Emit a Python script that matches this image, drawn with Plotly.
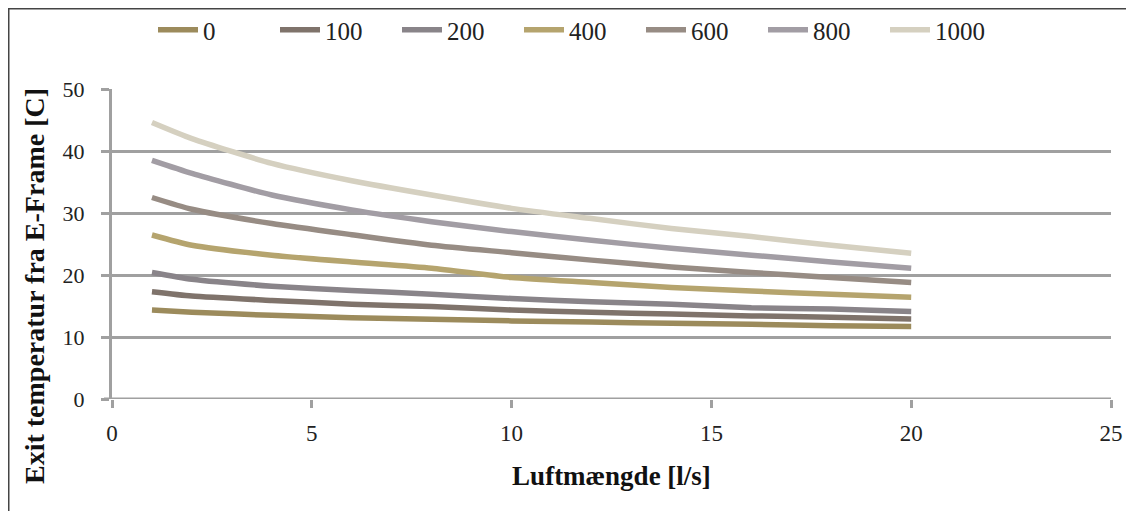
import plotly.graph_objects as go

x_vals = [1, 2, 4, 6, 8, 10, 12, 14, 16, 18, 20]
series_names = ["0", "100", "200", "400", "600", "800", "1000"]
s0 = [14.35, 14.0, 13.5, 13.1, 12.85, 12.6, 12.4, 12.2, 12.05, 11.8, 11.7]
s100 = [17.3, 16.6, 15.9, 15.3, 14.9, 14.35, 14.0, 13.7, 13.4, 13.2, 12.9]
s200 = [20.4, 19.3, 18.2, 17.5, 16.9, 16.2, 15.7, 15.3, 14.7, 14.5, 14.1]
s400 = [26.45, 24.8, 23.2, 22.1, 21.1, 19.6, 18.8, 18.0, 17.4, 16.9, 16.4]
s600 = [32.5, 30.6, 28.3, 26.5, 24.8, 23.6, 22.4, 21.3, 20.4, 19.6, 18.8]
s800 = [38.5, 36.4, 32.9, 30.5, 28.6, 27.0, 25.6, 24.3, 23.2, 22.1, 21.1]
s1000 = [44.6, 42.0, 38.0, 35.2, 32.9, 30.75, 29.1, 27.5, 26.2, 24.8, 23.5]
series_values = [s0, s100, s200, s400, s600, s800, s1000]
colors = ["#9c8b5c", "#7f736b", "#898489", "#b5a46e", "#978c84", "#a29da4", "#d5d0c0"]

x_ticks = [0, 5, 10, 15, 20, 25]
y_ticks = [0, 10, 20, 30, 40, 50]
x_title = "Luftmængde [l/s]"
y_title = "Exit temperatur fra E-Frame [C]"

FONT = "Liberation Serif"

fig = go.Figure()
for name, vals, col in zip(series_names, series_values, colors):
    fig.add_trace(go.Scatter(
        x=x_vals, y=vals, name=name, mode="lines",
        line=dict(color=col, width=5.5, shape="spline", smoothing=0.6),
    ))

# page body has an 8px margin, so the figure is sized to fit the window
W, H = 1126, 503
L, R, T, B = 104, 23, 81, 112
pw, ph = W - L - R, H - T - B

def px_x(p):
    return (p - L) / pw

def px_y(p):
    return (H - B - p) / ph

fig.update_layout(
    width=W, height=H,
    margin=dict(l=L, r=R, t=T, b=B, autoexpand=False),
    paper_bgcolor="white", plot_bgcolor="white",
    font=dict(family=FONT, color="#222222", size=23),
    showlegend=True,
    legend=dict(
        orientation="h", x=px_x(145), xanchor="left", y=px_y(22), yanchor="middle",
        font=dict(family=FONT, size=25, color="#222222"),
        itemwidth=40, entrywidth=67, entrywidthmode="pixels", tracegroupgap=0,
        bgcolor="rgba(0,0,0,0)",
    ),
    xaxis=dict(
        range=[0, 25], tickvals=x_ticks, ticktext=[str(v) for v in x_ticks],
        showgrid=False, zeroline=False, showline=False,
        ticks="outside", ticklen=8, tickwidth=3, tickcolor="#a0a0a0",
        ticklabelstandoff=5,
        tickfont=dict(family=FONT, size=23, color="#222222"),
        title=dict(text="<b>" + x_title + "</b>", font=dict(family=FONT, size=27, color="#111111"), standoff=21),
    ),
    yaxis=dict(
        range=[0, 50], tickvals=y_ticks, ticktext=[str(v) for v in y_ticks],
        showgrid=True, gridcolor="#a0a0a0", gridwidth=3,
        zeroline=False, showline=True, linecolor="#a0a0a0", linewidth=3,
        ticks="outside", ticklen=8, tickwidth=3, tickcolor="#a0a0a0",
        ticklabelstandoff=12,
        tickfont=dict(family=FONT, size=22, color="#222222"),
    ),
)

fig.add_annotation(
    text="<b>" + y_title + "</b>", textangle=-90, showarrow=False,
    xref="paper", yref="paper", x=px_x(26), y=px_y(278),
    xanchor="center", yanchor="middle",
    font=dict(family=FONT, size=28, color="#111111"),
)

# outer frame (left and top edges)
fig.add_shape(type="line", xref="paper", yref="paper",
              x0=px_x(0.75), x1=px_x(0.75), y0=px_y(0), y1=px_y(H + 5),
              line=dict(color="#444444", width=1.5))
fig.add_shape(type="line", xref="paper", yref="paper",
              x0=px_x(0), x1=px_x(W + 5), y0=px_y(0.75), y1=px_y(0.75),
              line=dict(color="#444444", width=1.5))
# baseline at 0 extending over the tick
fig.add_shape(type="line", xref="paper", yref="y",
              x0=px_x(L - 8), x1=1, y0=0, y1=0, layer="below",
              line=dict(color="#a0a0a0", width=3))

fig.write_html("out.html")
